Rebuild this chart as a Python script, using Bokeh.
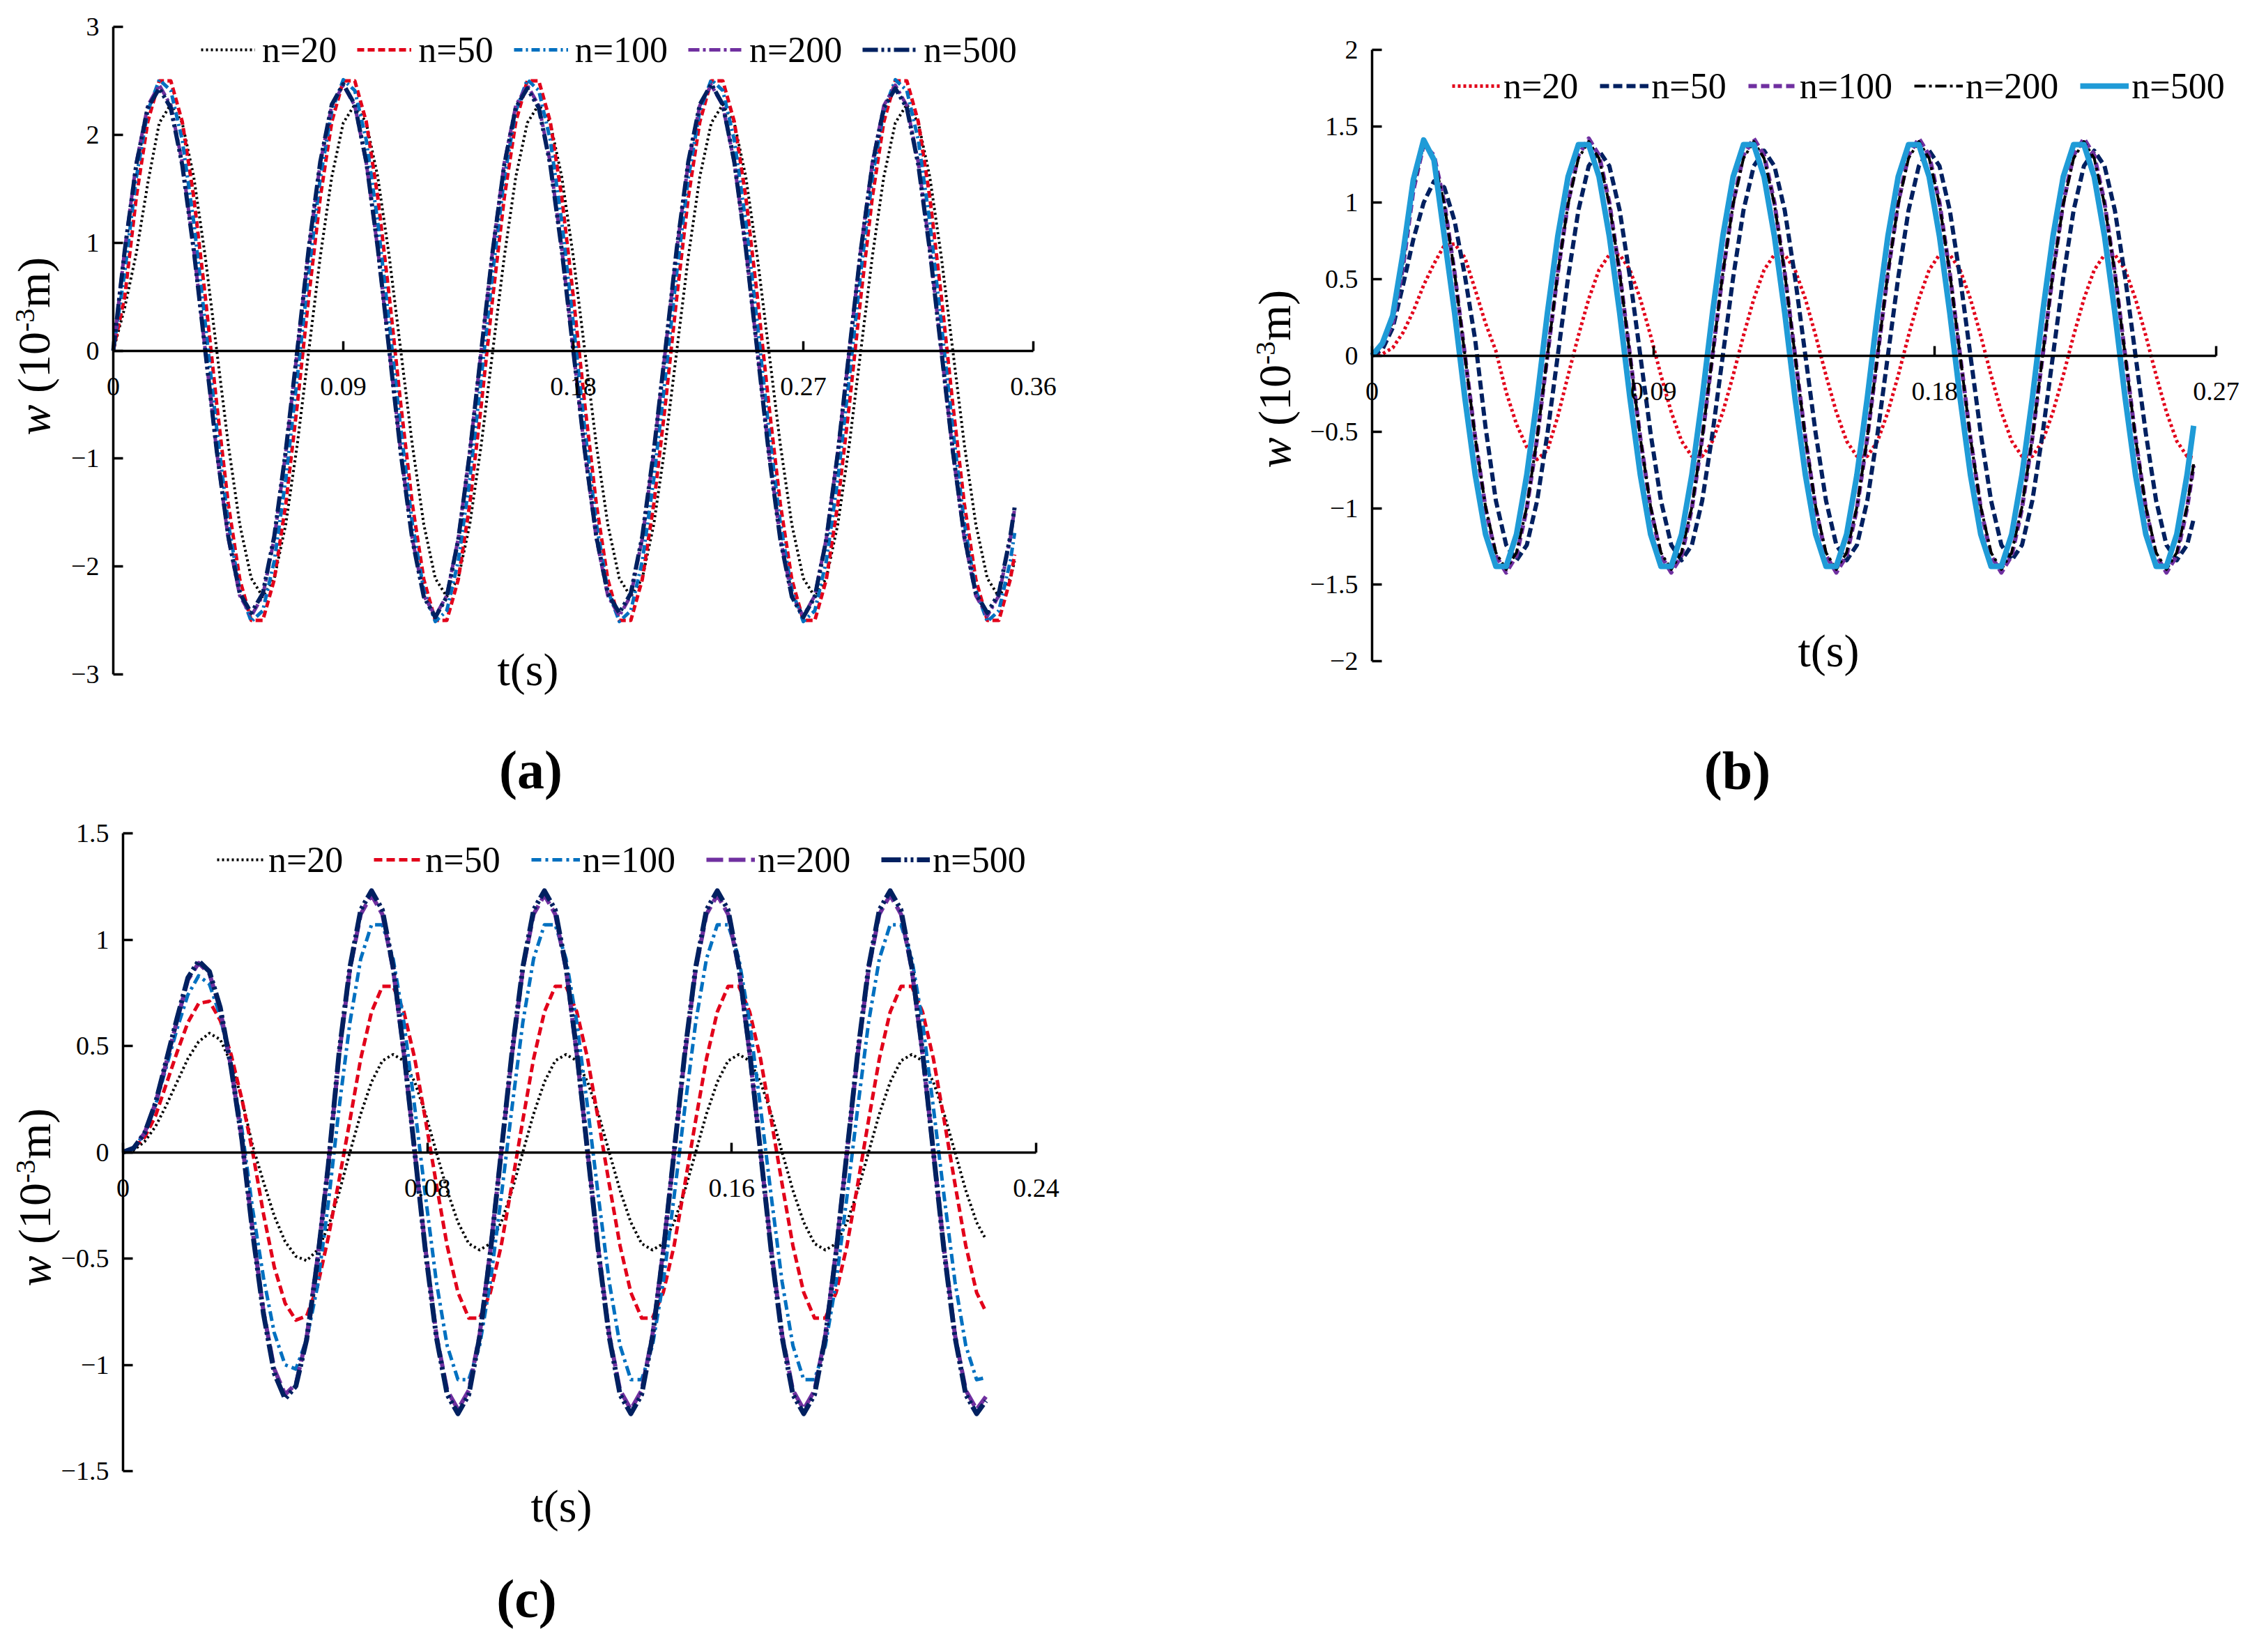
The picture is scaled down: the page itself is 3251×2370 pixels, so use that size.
import math
from bokeh.plotting import figure
from bokeh.models import Range1d, LinearAxis, FixedTicker, Label, Legend, LegendItem
from bokeh.layouts import column, row
from bokeh.embed import file_html
from bokeh.resources import INLINE

FONT = "Liberation Serif"
names = ["n=20", "n=50", "n=100", "n=200", "n=500"]

# ---------------- panel (a) ----------------
xticks_a = [0, 0.09, 0.18, 0.27, 0.36]
xlabels_a = ["0", "0.09", "0.18", "0.27", "0.36"]
yticks_a = [-3, -2, -1, 0, 1, 2, 3]
ylabels_a = ["\u22123", "\u22122", "\u22121", "0", "1", "2", "3"]

t_a = [0, 0.0045, 0.009, 0.0135, 0.018, 0.0225, 0.027, 0.0315, 0.036, 0.0405, 0.045, 0.0495, 0.054, 0.0585, 0.063, 0.0675,
       0.072, 0.0765, 0.081, 0.0855, 0.09, 0.0945, 0.099, 0.1035, 0.108, 0.1125, 0.117, 0.1215, 0.126, 0.1305, 0.135, 0.1395,
       0.144, 0.1485, 0.153, 0.1575, 0.162, 0.1665, 0.171, 0.1755, 0.18, 0.1845, 0.189, 0.1935, 0.198, 0.2025, 0.207, 0.2115,
       0.216, 0.2205, 0.225, 0.2295, 0.234, 0.2385, 0.243, 0.2475, 0.252, 0.2565, 0.261, 0.2655, 0.27, 0.2745, 0.279, 0.2835,
       0.288, 0.2925, 0.297, 0.3015, 0.306, 0.3105, 0.315, 0.3195, 0.324, 0.3285, 0.333, 0.3375, 0.342, 0.3465, 0.351, 0.3527]

w_a_n20 = [0, 0.40, 0.90, 1.55, 2.11, 2.28, 2.11, 1.61, 0.87, 0, -0.87, -1.61, -2.11, -2.28, -2.11, -1.61,
           -0.87, 0, 0.87, 1.61, 2.11, 2.28, 2.11, 1.61, 0.87, 0, -0.87, -1.61, -2.11, -2.28, -2.11, -1.61,
           -0.87, 0, 0.87, 1.61, 2.11, 2.28, 2.11, 1.61, 0.87, 0, -0.87, -1.61, -2.11, -2.28, -2.11, -1.61,
           -0.87, 0, 0.87, 1.61, 2.11, 2.28, 2.11, 1.61, 0.87, 0, -0.87, -1.61, -2.11, -2.28, -2.11, -1.61,
           -0.87, 0, 0.87, 1.61, 2.11, 2.28, 2.11, 1.61, 0.87, 0, -0.87, -1.61, -2.11, -2.28, -2.11, -1.95]
w_a_n50 = [0, 0.50, 1.42, 2.12, 2.50, 2.50, 2.12, 1.42, 0.50, -0.50, -1.42, -2.12, -2.50, -2.50, -2.12, -1.42,
           -0.50, 0.50, 1.42, 2.12, 2.50, 2.50, 2.12, 1.42, 0.50, -0.50, -1.42, -2.12, -2.50, -2.50, -2.12, -1.42,
           -0.50, 0.50, 1.42, 2.12, 2.50, 2.50, 2.12, 1.42, 0.50, -0.50, -1.42, -2.12, -2.50, -2.50, -2.12, -1.42,
           -0.50, 0.50, 1.42, 2.12, 2.50, 2.50, 2.12, 1.42, 0.50, -0.50, -1.42, -2.12, -2.50, -2.50, -2.12, -1.42,
           -0.50, 0.50, 1.42, 2.12, 2.50, 2.50, 2.12, 1.42, 0.50, -0.50, -1.42, -2.12, -2.50, -2.50, -2.12, -1.89]
w_a_n100 = [0, 0.73, 1.60, 2.22, 2.51, 2.41, 1.95, 1.19, 0.25, -0.73, -1.60, -2.22, -2.51, -2.41, -1.95, -1.19,
            -0.25, 0.73, 1.60, 2.22, 2.51, 2.41, 1.95, 1.19, 0.25, -0.73, -1.60, -2.22, -2.51, -2.41, -1.95, -1.19,
            -0.25, 0.73, 1.60, 2.22, 2.51, 2.41, 1.95, 1.19, 0.25, -0.73, -1.60, -2.22, -2.51, -2.41, -1.95, -1.19,
            -0.25, 0.73, 1.60, 2.22, 2.51, 2.41, 1.95, 1.19, 0.25, -0.73, -1.60, -2.22, -2.51, -2.41, -1.95, -1.19,
            -0.25, 0.73, 1.60, 2.22, 2.51, 2.41, 1.95, 1.19, 0.25, -0.73, -1.60, -2.22, -2.51, -2.41, -1.95, -1.69]
w_a_n200 = [0, 0.94, 1.74, 2.27, 2.46, 2.27, 1.74, 0.94, 0, -0.94, -1.74, -2.27, -2.46, -2.27, -1.74, -0.94,
            0, 0.94, 1.74, 2.27, 2.46, 2.27, 1.74, 0.94, 0, -0.94, -1.74, -2.27, -2.46, -2.27, -1.74, -0.94,
            0, 0.94, 1.74, 2.27, 2.46, 2.27, 1.74, 0.94, 0, -0.94, -1.74, -2.27, -2.46, -2.27, -1.74, -0.94,
            0, 0.94, 1.74, 2.27, 2.46, 2.27, 1.74, 0.94, 0, -0.94, -1.74, -2.27, -2.46, -2.27, -1.74, -0.94,
            0, 0.94, 1.74, 2.27, 2.46, 2.27, 1.74, 0.94, 0, -0.94, -1.74, -2.27, -2.46, -2.27, -1.74, -1.46]
w_a_n500 = [0, 0.93, 1.72, 2.25, 2.43, 2.25, 1.72, 0.93, 0, -0.93, -1.72, -2.25, -2.43, -2.25, -1.72, -0.93,
            0, 0.95, 1.75, 2.28, 2.47, 2.28, 1.75, 0.95, 0, -0.95, -1.75, -2.28, -2.47, -2.28, -1.75, -0.95,
            0, 0.93, 1.72, 2.25, 2.43, 2.25, 1.72, 0.93, 0, -0.93, -1.72, -2.25, -2.43, -2.25, -1.72, -0.93,
            0, 0.95, 1.75, 2.28, 2.47, 2.28, 1.75, 0.95, 0, -0.95, -1.75, -2.28, -2.47, -2.28, -1.75, -0.95,
            0, 0.93, 1.72, 2.25, 2.43, 2.25, 1.72, 0.93, 0, -0.93, -1.72, -2.25, -2.43, -2.25, -1.72, -1.45]

# ---------------- panel (b) ----------------
xticks_b = [0, 0.09, 0.18, 0.27]
xlabels_b = ["0", "0.09", "0.18", "0.27"]
yticks_b = [-2, -1.5, -1, -0.5, 0, 0.5, 1, 1.5, 2]
ylabels_b = ["\u22122", "\u22121.5", "\u22121", "\u22120.5", "0", "0.5", "1", "1.5", "2"]

t_b = [0, 0.0033, 0.0066, 0.0099, 0.0132, 0.0165, 0.0198, 0.0231, 0.0264, 0.0297, 0.033, 0.0363, 0.0396, 0.0429, 0.0462, 0.0495,
       0.0528, 0.0561, 0.0594, 0.0627, 0.066, 0.0693, 0.0726, 0.0759, 0.0792, 0.0825, 0.0858, 0.0891, 0.0924, 0.0957, 0.099, 0.1023,
       0.1056, 0.1089, 0.1122, 0.1155, 0.1188, 0.1221, 0.1254, 0.1287, 0.132, 0.1353, 0.1386, 0.1419, 0.1452, 0.1485, 0.1518, 0.1551,
       0.1584, 0.1617, 0.165, 0.1683, 0.1716, 0.1749, 0.1782, 0.1815, 0.1848, 0.1881, 0.1914, 0.1947, 0.198, 0.2013, 0.2046, 0.2079,
       0.2112, 0.2145, 0.2178, 0.2211, 0.2244, 0.2277, 0.231, 0.2343, 0.2376, 0.2409, 0.2442, 0.2475, 0.2508, 0.2541, 0.2574, 0.2607,
       0.2628]

w_b_n20 = [0, 0.01, 0.05, 0.15, 0.29, 0.46, 0.60, 0.72, 0.73, 0.64, 0.43, 0.21, 0.03, -0.24, -0.45, -0.60,
           -0.68, -0.62, -0.40, -0.13, 0.13, 0.37, 0.56, 0.66, 0.66, 0.56, 0.37, 0.13, -0.13, -0.37, -0.56, -0.66,
           -0.66, -0.56, -0.37, -0.13, 0.13, 0.37, 0.56, 0.66, 0.66, 0.56, 0.37, 0.13, -0.13, -0.37, -0.56, -0.66,
           -0.66, -0.56, -0.37, -0.13, 0.13, 0.37, 0.56, 0.66, 0.66, 0.56, 0.37, 0.13, -0.13, -0.37, -0.56, -0.66,
           -0.66, -0.56, -0.37, -0.13, 0.13, 0.37, 0.56, 0.66, 0.66, 0.56, 0.37, 0.13, -0.13, -0.37, -0.56, -0.66,
           -0.67]
w_b_n50 = [0, 0.04, 0.18, 0.46, 0.76, 1.00, 1.14, 1.10, 0.88, 0.52, 0.10, -0.47, -0.95, -1.24, -1.34, -1.24,
           -0.95, -0.51, 0, 0.51, 0.95, 1.24, 1.34, 1.24, 0.95, 0.51, 0, -0.51, -0.95, -1.24, -1.34, -1.24,
           -0.95, -0.51, 0, 0.51, 0.95, 1.24, 1.34, 1.24, 0.95, 0.51, 0, -0.51, -0.95, -1.24, -1.34, -1.24,
           -0.95, -0.51, 0, 0.51, 0.95, 1.24, 1.34, 1.24, 0.95, 0.51, 0, -0.51, -0.95, -1.24, -1.34, -1.24,
           -0.95, -0.51, 0, 0.51, 0.95, 1.24, 1.34, 1.24, 0.95, 0.51, 0, -0.51, -0.95, -1.24, -1.34, -1.24,
           -1.07]
w_b_n100 = [0, 0.07, 0.21, 0.58, 1.08, 1.38, 1.31, 1.00, 0.54, 0, -0.54, -1.00, -1.31, -1.42, -1.31, -1.00,
            -0.54, 0, 0.54, 1.00, 1.31, 1.42, 1.31, 1.00, 0.54, 0, -0.54, -1.00, -1.31, -1.42, -1.31, -1.00,
            -0.54, 0, 0.54, 1.00, 1.31, 1.42, 1.31, 1.00, 0.54, 0, -0.54, -1.00, -1.31, -1.42, -1.31, -1.00,
            -0.54, 0, 0.54, 1.00, 1.31, 1.42, 1.31, 1.00, 0.54, 0, -0.54, -1.00, -1.31, -1.42, -1.31, -1.00,
            -0.54, 0, 0.54, 1.00, 1.31, 1.42, 1.31, 1.00, 0.54, 0, -0.54, -1.00, -1.31, -1.42, -1.31, -1.00,
            -0.72]
w_b_n200 = [0, 0.07, 0.22, 0.60, 1.10, 1.38, 1.29, 0.99, 0.54, 0, -0.54, -0.99, -1.29, -1.40, -1.29, -0.99,
            -0.54, 0, 0.54, 0.99, 1.29, 1.40, 1.29, 0.99, 0.54, 0, -0.54, -0.99, -1.29, -1.40, -1.29, -0.99,
            -0.54, 0, 0.54, 0.99, 1.29, 1.40, 1.29, 0.99, 0.54, 0, -0.54, -0.99, -1.29, -1.40, -1.29, -0.99,
            -0.54, 0, 0.54, 0.99, 1.29, 1.40, 1.29, 0.99, 0.54, 0, -0.54, -0.99, -1.29, -1.40, -1.29, -0.99,
            -0.54, 0, 0.54, 0.99, 1.29, 1.40, 1.29, 0.99, 0.54, 0, -0.54, -0.99, -1.29, -1.40, -1.29, -0.99,
            -0.71]
w_b_n500 = [0, 0.08, 0.26, 0.67, 1.15, 1.41, 1.28, 0.78, 0.28, -0.28, -0.78, -1.17, -1.38, -1.38, -1.17, -0.78,
            -0.28, 0.28, 0.78, 1.17, 1.38, 1.38, 1.17, 0.78, 0.28, -0.28, -0.78, -1.17, -1.38, -1.38, -1.17, -0.78,
            -0.28, 0.28, 0.78, 1.17, 1.38, 1.38, 1.17, 0.78, 0.28, -0.28, -0.78, -1.17, -1.38, -1.38, -1.17, -0.78,
            -0.28, 0.28, 0.78, 1.17, 1.38, 1.38, 1.17, 0.78, 0.28, -0.28, -0.78, -1.17, -1.38, -1.38, -1.17, -0.78,
            -0.28, 0.28, 0.78, 1.17, 1.38, 1.38, 1.17, 0.78, 0.28, -0.28, -0.78, -1.17, -1.38, -1.38, -1.17, -0.78,
            -0.46]

# ---------------- panel (c) ----------------
xticks_c = [0, 0.08, 0.16, 0.24]
xlabels_c = ["0", "0.08", "0.16", "0.24"]
yticks_c = [-1.5, -1, -0.5, 0, 0.5, 1, 1.5]
ylabels_c = ["\u22121.5", "\u22121", "\u22120.5", "0", "0.5", "1", "1.5"]

t_c = [0, 0.00284, 0.00568, 0.00852, 0.01136, 0.0142, 0.01704, 0.01988, 0.02272, 0.02556, 0.0284, 0.03124, 0.03408, 0.03692, 0.03976, 0.0426,
       0.04544, 0.04828, 0.05112, 0.05396, 0.0568, 0.05964, 0.06248, 0.06532, 0.06816, 0.071, 0.07384, 0.07668, 0.07952, 0.08236, 0.0852, 0.08804,
       0.09088, 0.09372, 0.09656, 0.0994, 0.10224, 0.10508, 0.10792, 0.11076, 0.1136, 0.11644, 0.11928, 0.12212, 0.12496, 0.1278, 0.13064, 0.13348,
       0.13632, 0.13916, 0.142, 0.14484, 0.14768, 0.15052, 0.15336, 0.1562, 0.15904, 0.16188, 0.16472, 0.16756, 0.1704, 0.17324, 0.17608, 0.17892,
       0.18176, 0.1846, 0.18744, 0.19028, 0.19312, 0.19596, 0.1988, 0.20164, 0.20448, 0.20732, 0.21016, 0.213, 0.21584, 0.21868, 0.22152, 0.22436,
       0.2268]

w_c_n20 = [0, 0.01, 0.05, 0.12, 0.22, 0.33, 0.44, 0.52, 0.56, 0.53, 0.42, 0.25, 0.03, -0.14, -0.30, -0.42,
           -0.49, -0.51, -0.46, -0.35, -0.19, 0, 0.18, 0.33, 0.43, 0.46, 0.43, 0.33, 0.18, 0, -0.18, -0.33,
           -0.43, -0.46, -0.43, -0.33, -0.18, 0, 0.18, 0.33, 0.43, 0.46, 0.43, 0.33, 0.18, 0, -0.18, -0.33,
           -0.43, -0.46, -0.43, -0.33, -0.18, 0, 0.18, 0.33, 0.43, 0.46, 0.43, 0.33, 0.18, 0, -0.18, -0.33,
           -0.43, -0.46, -0.43, -0.33, -0.18, 0, 0.18, 0.33, 0.43, 0.46, 0.43, 0.33, 0.18, 0, -0.18, -0.33,
           -0.41]
w_c_n50 = [0, 0.02, 0.07, 0.17, 0.32, 0.47, 0.61, 0.70, 0.71, 0.62, 0.46, 0.25, 0.00, -0.29, -0.54, -0.71,
           -0.79, -0.77, -0.63, -0.40, -0.13, 0.15, 0.44, 0.66, 0.78, 0.78, 0.66, 0.44, 0.15, -0.15, -0.44, -0.66,
           -0.78, -0.78, -0.66, -0.44, -0.15, 0.15, 0.44, 0.66, 0.78, 0.78, 0.66, 0.44, 0.15, -0.15, -0.44, -0.66,
           -0.78, -0.78, -0.66, -0.44, -0.15, 0.15, 0.44, 0.66, 0.78, 0.78, 0.66, 0.44, 0.15, -0.15, -0.44, -0.66,
           -0.78, -0.78, -0.66, -0.44, -0.15, 0.15, 0.44, 0.66, 0.78, 0.78, 0.66, 0.44, 0.15, -0.15, -0.44, -0.66,
           -0.75]
w_c_n100 = [0, 0.02, 0.09, 0.22, 0.40, 0.58, 0.74, 0.83, 0.79, 0.64, 0.40, 0.11, -0.27, -0.59, -0.85, -1.00,
            -1.02, -0.88, -0.63, -0.24, 0.21, 0.61, 0.91, 1.07, 1.07, 0.91, 0.61, 0.21, -0.21, -0.61, -0.91, -1.07,
            -1.07, -0.91, -0.61, -0.21, 0.21, 0.61, 0.91, 1.07, 1.07, 0.91, 0.61, 0.21, -0.21, -0.61, -0.91, -1.07,
            -1.07, -0.91, -0.61, -0.21, 0.21, 0.61, 0.91, 1.07, 1.07, 0.91, 0.61, 0.21, -0.21, -0.61, -0.91, -1.07,
            -1.07, -0.91, -0.61, -0.21, 0.21, 0.61, 0.91, 1.07, 1.07, 0.91, 0.61, 0.21, -0.21, -0.61, -0.91, -1.07,
            -1.06]
w_c_n200 = [0, 0.02, 0.09, 0.23, 0.42, 0.62, 0.81, 0.89, 0.84, 0.67, 0.40, 0.06, -0.37, -0.75, -1.02, -1.14,
            -1.09, -0.87, -0.50, -0.06, 0.46, 0.86, 1.12, 1.21, 1.12, 0.86, 0.46, 0, -0.46, -0.86, -1.12, -1.21,
            -1.12, -0.86, -0.46, 0, 0.46, 0.86, 1.12, 1.21, 1.12, 0.86, 0.46, 0, -0.46, -0.86, -1.12, -1.21,
            -1.12, -0.86, -0.46, 0, 0.46, 0.86, 1.12, 1.21, 1.12, 0.86, 0.46, 0, -0.46, -0.86, -1.12, -1.21,
            -1.12, -0.86, -0.46, 0, 0.46, 0.86, 1.12, 1.21, 1.12, 0.86, 0.46, 0, -0.46, -0.86, -1.12, -1.21,
            -1.15]
w_c_n500 = [0, 0.02, 0.09, 0.23, 0.43, 0.63, 0.82, 0.90, 0.85, 0.68, 0.40, 0.06, -0.38, -0.76, -1.04, -1.16,
            -1.10, -0.88, -0.51, -0.06, 0.47, 0.87, 1.14, 1.23, 1.14, 0.87, 0.47, 0, -0.47, -0.87, -1.14, -1.23,
            -1.14, -0.87, -0.47, 0, 0.47, 0.87, 1.14, 1.23, 1.14, 0.87, 0.47, 0, -0.47, -0.87, -1.14, -1.23,
            -1.14, -0.87, -0.47, 0, 0.47, 0.87, 1.14, 1.23, 1.14, 0.87, 0.47, 0, -0.47, -0.87, -1.14, -1.23,
            -1.14, -0.87, -0.47, 0, 0.47, 0.87, 1.14, 1.23, 1.14, 0.87, 0.47, 0, -0.47, -0.87, -1.14, -1.23,
            -1.17]

for arr in [w_a_n20, w_a_n50, w_a_n100, w_a_n200, w_a_n500]:
    assert len(arr) == len(t_a), len(arr)
for arr in [w_b_n20, w_b_n50, w_b_n100, w_b_n200, w_b_n500]:
    assert len(arr) == len(t_b), len(arr)
for arr in [w_c_n20, w_c_n50, w_c_n100, w_c_n200, w_c_n500]:
    assert len(arr) == len(t_c), len(arr)

RED = "#E2001A"
BLUE = "#0070C0"
PURPLE = "#7030A0"
NAVY = "#002060"
CYAN = "#1F9BD7"
BLACK = "#000000"


def build(spec):
    fx, fy, W, H = spec["fig"]          # figure position/size on the page
    L, R, T, B = spec["frame"]          # page pixels of the axis extents
    x0, x1 = spec["xr"]
    y0, y1 = spec["yr"]
    sxp = (x1 - x0) / (R - L)
    syp = (y1 - y0) / (B - T)
    X0 = x0 - (L - fx) * sxp
    X1 = x1 + (fx + W - R) * sxp
    Y1 = y1 + (T - fy) * syp
    Y0 = y0 - (fy + H - B) * syp

    def dx(px):
        return x0 + (px - L) * sxp

    def dy(py):
        return y1 - (py - T) * syp

    p = figure(width=W, height=H, x_range=Range1d(X0, X1), y_range=Range1d(Y0, Y1),
               x_axis_type=None, y_axis_type=None, toolbar_location=None, output_backend="svg",
               title=None, min_border=0, min_border_left=0, min_border_right=0,
               min_border_top=0, min_border_bottom=0)
    p.outline_line_color = None
    p.background_fill_color = "white"
    p.border_fill_color = "white"

    common = dict(axis_line_width=3.5, major_tick_line_width=3.5, major_tick_in=14, major_tick_out=0,
                  minor_tick_line_color=None, major_label_text_font=FONT,
                  major_label_text_font_size="38px", major_label_text_color="black",
                  axis_line_color="black", major_tick_line_color="black")
    yax = LinearAxis(fixed_location=x0, bounds=(y0, y1), ticker=FixedTicker(ticks=spec["yticks"]),
                     major_label_overrides=dict(zip(spec["yticks"], spec["ylabels"])),
                     major_label_standoff=20, **common)
    p.add_layout(yax, "left")
    xax = LinearAxis(fixed_location=0, bounds=(x0, x1), ticker=FixedTicker(ticks=spec["xticks"]),
                     major_label_overrides=dict(zip(spec["xticks"], spec["xlabels"])),
                     major_label_standoff=39, **common)
    p.add_layout(xax, "below")

    items = []
    for name, t, w, color, lw, dash in spec["series"]:
        r = p.line(t, w, line_color=color, line_width=lw, line_dash=dash, line_join="round")
        items.append(LegendItem(label=name, renderers=[r]))

    gx, cy, gw, st, sp = spec["legend"]
    leg = Legend(items=items, orientation="horizontal", location=(gx - fx, (fy + H) - (cy + 30)),
                 glyph_width=gw, glyph_height=60, label_height=60, label_standoff=st, spacing=sp,
                 padding=0, margin=0, border_line_color=None, background_fill_alpha=0,
                 label_text_font=FONT, label_text_font_size="52px", label_text_color="black")
    p.add_layout(leg)

    # y title: w (10^-3 m), rotated
    xc, ys = spec["ytitle"]
    parts = [("w", 0, "66px", "italic", 0),
             ("(10", 60.5, "66px", "normal", 0),
             ("-3", 148.5, "40px", "normal", -13),
             ("m)", 182.5, "66px", "normal", 0)]
    for txt, off, size, style, xs in parts:
        p.add_layout(Label(x=dx(xc + xs), y=dy(ys - off), text=txt, angle=math.pi / 2,
                           text_align="left", text_baseline="middle", text_font=FONT,
                           text_font_size=size, text_font_style=style, text_color="black"))

    tx, ty = spec["tlabel"]
    p.add_layout(Label(x=dx(tx), y=dy(ty), text="t(s)", text_align="center", text_baseline="middle",
                       text_font=FONT, text_font_size="66px", text_color="black"))
    ptxt, px_, py_ = spec["plabel"]
    p.add_layout(Label(x=dx(px_), y=dy(py_), text=ptxt, text_align="center", text_baseline="middle",
                       text_font=FONT, text_font_size="78px", text_font_style="bold", text_color="black"))
    return p


spec_a = dict(fig=(8, 8, 1592, 1172), frame=(170, 1490, 46, 975), xr=(0, 0.36), yr=(-3, 3),
              xticks=xticks_a, xlabels=xlabels_a, yticks=yticks_a, ylabels=ylabels_a,
              series=[(names[0], t_a, w_a_n20, BLACK, 4, "3 4"),
                      (names[1], t_a, w_a_n50, RED, 5, "10 5"),
                      (names[2], t_a, w_a_n100, BLUE, 5, "12 5 3 5"),
                      (names[3], t_a, w_a_n200, PURPLE, 5, "16 5 4 5"),
                      (names[4], t_a, w_a_n500, NAVY, 6, "22 5 4 5 4 5")],
              legend=(296, 79, 78, 10, 29), ytitle=(56, 632), tlabel=(765, 968), plabel=("(a)", 769, 1112))

spec_b = dict(fig=(1600, 8, 1643, 1172), frame=(1976, 3187, 79, 956), xr=(0, 0.27), yr=(-2, 2),
              xticks=xticks_b, xlabels=xlabels_b, yticks=yticks_b, ylabels=ylabels_b,
              series=[(names[0], t_b, w_b_n20, RED, 5, "4 4"),
                      (names[1], t_b, w_b_n50, NAVY, 6, "13 6"),
                      (names[2], t_b, w_b_n100, PURPLE, 6, "12 6"),
                      (names[3], t_b, w_b_n200, BLACK, 4, "16 5 4 5"),
                      (names[4], t_b, w_b_n500, CYAN, 8, "solid")],
              legend=(2091, 131, 70, 4, 31), ytitle=(1836, 679), tlabel=(2631, 941), plabel=("(b)", 2500, 1113))

spec_c = dict(fig=(8, 1180, 1592, 1182), frame=(184, 1494, 1203, 2118), xr=(0, 0.24), yr=(-1.5, 1.5),
              xticks=xticks_c, xlabels=xlabels_c, yticks=yticks_c, ylabels=ylabels_c,
              series=[(names[0], t_c, w_c_n20, BLACK, 4, "3 4"),
                      (names[1], t_c, w_c_n50, RED, 5, "12 6"),
                      (names[2], t_c, w_c_n100, BLUE, 5, "14 6 4 6"),
                      (names[3], t_c, w_c_n200, PURPLE, 6, "24 8"),
                      (names[4], t_c, w_c_n500, NAVY, 7, "28 5 4 5 4 5")],
              legend=(319, 1241, 70, 4, 44), ytitle=(57, 1853), tlabel=(813, 2168), plabel=("(c)", 763, 2301))

pa = build(spec_a)
pb = build(spec_b)
pc = build(spec_c)

layout = column(row(pa, pb), pc)
open("out.html", "w").write(file_html(layout, INLINE))
